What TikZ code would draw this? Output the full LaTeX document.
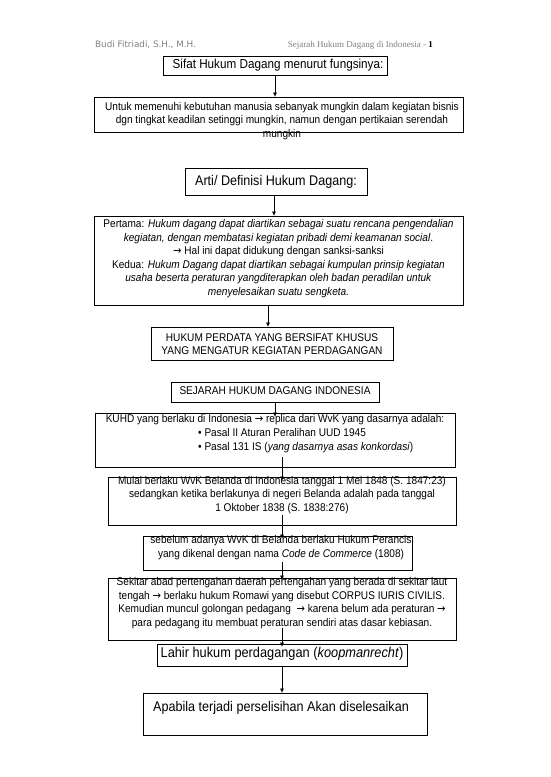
\documentclass[tikz,border=0pt]{standalone}
\usepackage{fontspec}
\setmainfont[FakeStretch=0.9]{Liberation Sans}
\newfontfamily\djv{DejaVu Sans}
\newfontfamily\djvn[FakeStretch=0.9]{DejaVu Sans}
\newfontfamily\serifhd{Liberation Serif}
\usetikzlibrary{arrows.meta,calc}
\newcommand\rarr{{\djvn →}}
\begin{document}
\begin{tikzpicture}[x=1pt,y=-1pt,
  bx/.style={draw=black, line width=0.8pt, inner sep=0pt},
  txt/.style={align=center, font=\fontsize{11.2}{13.6}\selectfont, inner sep=0pt},
  big/.style={align=center, font=\fontsize{13}{15}\selectfont, inner sep=0pt},
  mid/.style={align=center, font=\fontsize{14.2}{16}\selectfont, inner sep=0pt},
  arr/.style={-{Triangle[length=4pt,width=3.5pt]}, line width=0.7pt}]
\useasboundingbox (0,0) rectangle (550,777);
\fill[white] (0,0) rectangle (550,777);

% header
\node[font=\djv\fontsize{8.8}{9}\selectfont, text=gray, anchor=west, inner sep=0pt] (hl) at (95,45) {Budi Fitriadi, S.H., M.H.};
\node[font=\serifhd\fontsize{9}{10}\selectfont, text=gray, anchor=east, inner sep=0pt] (hr) at (433,45) {Sejarah Hukum Dagang di Indonesia - \textcolor{black}{\textbf{1}}};

% boxes
\node[bx, minimum width=224pt, minimum height=19pt] (sifat) at (275,65.5) {};
\node[bx, minimum width=369pt, minimum height=35pt] (untuk) at (278.5,114.5) {};
\node[bx, minimum width=182pt, minimum height=27pt] (arti) at (276,181.5) {};
\node[bx, minimum width=369pt, minimum height=89pt] (pertama) at (278.5,260.5) {};
\node[bx, minimum width=242pt, minimum height=33pt] (hukum) at (272,343.5) {};
\node[bx, minimum width=208pt, minimum height=20pt] (sejarah) at (275,392) {};
\node[bx, minimum width=360pt, minimum height=54pt] (kuhd) at (275,440) {};
\node[bx, minimum width=348pt, minimum height=48pt] (mulai) at (282,501) {};
\node[bx, minimum width=269pt, minimum height=34pt] (sebelum) at (277.5,553) {};
\node[bx, minimum width=348pt, minimum height=62pt] (sekitar) at (282,609) {};
\node[bx, minimum width=250pt, minimum height=22pt] (lahir) at (282,655) {};
\node[bx, minimum width=284pt, minimum height=42pt] (apabila) at (285,714) {};

% texts
\node[big] (sifatt) at (278,65.5) {Sifat Hukum Dagang menurut fungsinya:};
\node[txt] (untukt) at (282,121) {Untuk memenuhi kebutuhan manusia sebanyak mungkin dalam kegiatan bisnis\\dgn tingkat keadilan setinggi mungkin, namun dengan pertikaian serendah\\mungkin};
\node[big, font=\fontsize{14}{15}\selectfont] (artit) at (276,181.5) {Arti/ Definisi Hukum Dagang:};
\node[txt] (pertamat) at (278.5,258.5) {Pertama: \textit{Hukum dagang dapat diartikan sebagai suatu rencana pengendalian}\\\textit{kegiatan, dengan membatasi kegiatan pribadi demi keamanan social}.\\\rarr\ Hal ini dapat didukung dengan sanksi-sanksi\\Kedua: \textit{Hukum Dagang dapat diartikan sebagai kumpulan prinsip kegiatan}\\\textit{usaha beserta peraturan yangditerapkan oleh badan peradilan untuk}\\\textit{menyelesaikan suatu sengketa.}};
\node[txt] (hukumt) at (272,344) {HUKUM PERDATA YANG BERSIFAT KHUSUS\\YANG MENGATUR KEGIATAN PERDAGANGAN};
\node[txt] (sejaraht) at (275,391) {SEJARAH HUKUM DAGANG INDONESIA};
\node[txt] (kuhdt) at (275,420) {KUHD yang berlaku di Indonesia \rarr\ replica dari WvK yang dasarnya adalah:};
\node[txt, align=left, anchor=west] (kuhdb) at (198,440.5) {• Pasal II Aturan Peralihan UUD 1945\\• Pasal 131 IS (\textit{yang dasarnya asas konkordasi})};
\node[txt] (mulait) at (282,495) {Mulai berlaku WvK Belanda di Indonesia tanggal 1 Mei 1848 (S. 1847:23)\\sedangkan ketika berlakunya di negeri Belanda adalah pada tanggal\\1 Oktober 1838 (S. 1838:276)};
\node[txt] (sebelumt) at (281,547.5) {sebelum adanya WvK di Belanda berlaku Hukum Perancis\\yang dikenal dengan nama \textit{Code de Commerce} (1808)};
\node[txt] (sekitart) at (282,603) {Sekitar abad pertengahan daerah pertengahan yang berada di sekitar laut\\tengah \rarr\ berlaku hukum Romawi yang disebut CORPUS IURIS CIVILIS.\\Kemudian muncul golongan pedagang \ \rarr\ karena belum ada peraturan \rarr\\para pedagang itu membuat peraturan sendiri atas dasar kebiasan.};
\node[mid] (lahirt) at (282,654) {Lahir hukum perdagangan (\textit{koopmanrecht})};
\node[mid, font=\fontsize{14}{15}\selectfont, anchor=west] (apabilat) at (153,708) {Apabila terjadi perselisihan Akan diselesaikan};

% connector columns
\coordinate (ca) at (275,0);
\coordinate (cb) at (274,0);
\coordinate (cc) at (268,0);
\coordinate (cd) at (282,0);

\draw[arr] (sifat.south -| ca) -- (untuk.north -| ca);
\draw[arr] (arti.south -| cb) -- (pertama.north -| cb);
\draw[arr] (pertama.south -| cc) -- (hukum.north -| cc);
\draw[arr] (sejarah.south -| ca) -- ($(kuhd.north -| ca)+(0,4)$);
\draw[arr] ($(kuhd.south -| cd)+(0,-10)$) -- ($(mulai.north -| cd)+(0,4)$);
\draw[arr] ($(mulai.south -| cd)+(0,-10)$) -- ($(sebelum.north -| cd)+(0,3)$);
\draw[arr] ($(sebelum.south -| cd)+(0,-8)$) -- ($(sekitar.north -| cd)+(0,2)$);
\draw[arr] ($(sekitar.south -| cd)+(0,-12)$) -- ($(lahir.north -| cd)+(0,3)$);
\draw[arr] (lahir.south -| cd) -- (apabila.north -| cd);
\end{tikzpicture}
\end{document}
